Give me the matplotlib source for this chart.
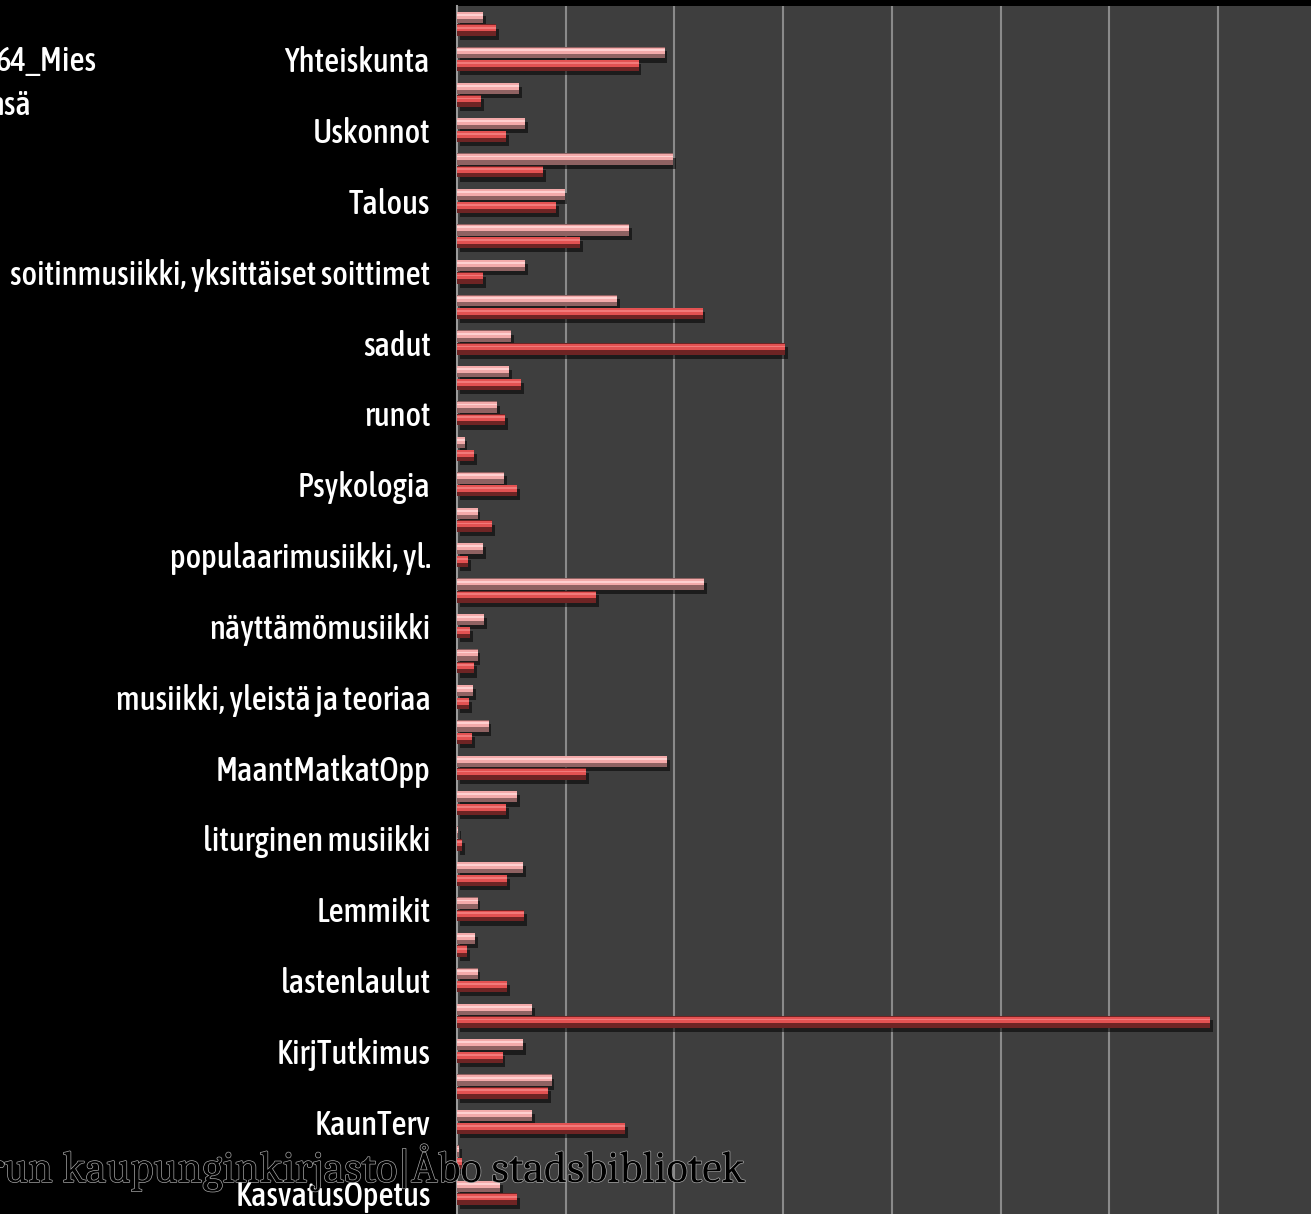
import matplotlib
matplotlib.use("Agg")
import matplotlib.pyplot as plt
import matplotlib.patheffects as pe
from matplotlib.textpath import TextPath
from matplotlib.font_manager import FontProperties
import numpy as np

# rows from top to bottom; every second row has no visible label in the source
categories = ['', 'Yhteiskunta', '', 'Uskonnot', '', 'Talous', '',
              'soitinmusiikki, yksittäiset soittimet', '', 'sadut', '', 'runot', '',
              'Psykologia', '', 'populaarimusiikki, yl.', '', 'näyttämömusiikki', '',
              'musiikki, yleistä ja teoriaa', '', 'MaantMatkatOpp', '',
              'liturginen musiikki', '', 'Lemmikit', '', 'lastenlaulut', '',
              'KirjTutkimus', '', 'KaunTerv', '', 'KasvatusOpetus']

# light series (upper bar of each pair)
yhteensa = [0.24, 1.91, 0.57, 0.63, 1.99, 0.99, 1.58, 0.63, 1.47, 0.50, 0.48, 0.37,
            0.07, 0.43, 0.19, 0.24, 2.27, 0.25, 0.19, 0.15, 0.29, 1.93, 0.55, 0.01,
            0.61, 0.19, 0.17, 0.19, 0.69, 0.61, 0.87, 0.69, 0.02, 0.40]
# dark red series (lower bar of each pair)
mies = [0.36, 1.67, 0.22, 0.45, 0.79, 0.91, 1.13, 0.24, 2.26, 3.02, 0.59, 0.44,
        0.16, 0.55, 0.32, 0.10, 1.28, 0.12, 0.16, 0.11, 0.14, 1.19, 0.45, 0.05,
        0.46, 0.62, 0.09, 0.46, 6.93, 0.42, 0.84, 1.55, 0.05, 0.55]

legend_texts = ['64_Mies', 'nsä']
watermark = 'Turun kaupunginkirjasto|Åbo stadsbibliotek'

label_font = ['Asap Condensed', 'DejaVu Sans']
serif_font = ['Caladea', 'Liberation Serif', 'DejaVu Serif']


def size_for_width(text, family, width_px, weight='normal'):
    # font size (pt) that makes `text` about width_px wide at dpi 100
    tp = TextPath((0, 0), text, size=100, prop=FontProperties(family=family, weight=weight))
    w = tp.get_extents().width
    return 100 * width_px / w * 72 / 100


W, H = 1311, 1214
fig = plt.figure(figsize=(W / 100, H / 100), dpi=100, facecolor='black')
ax = fig.add_axes([457 / W, 0, 1 - 457 / W, 1 - 6 / H])
ax.set_facecolor('#3e3e3e')

y = np.arange(len(categories))
h = 0.32
off = 0.18

styles = [
    (yhteensa, -off, '#8f6262', '#f3aaaa', '#ffd0d0'),
    (mies, off, '#6e2424', '#e35252', '#f27a7a'),
]
shadow = [pe.SimplePatchShadow(offset=(2, -3), shadow_rgbFace='black', alpha=0.55), pe.Normal()]
for vals, dy, dark, mid, light in styles:
    ax.barh(y + dy, vals, height=h, color=dark, zorder=3, path_effects=shadow)
    ax.barh(y + dy - h * 0.17, vals, height=h * 0.58, color=mid, zorder=4)
    ax.barh(y + dy - h * 0.22, vals, height=h * 0.16, color=light, zorder=5)

ax.set_xlim(0, 854 / 108.7)
ax.set_ylim(33.6, -0.5)
ax.set_xticks(np.arange(1, 8))
ax.xaxis.grid(True, color='#8a8a8a', linewidth=1.5, zorder=1)
ax.set_axisbelow(True)
ax.tick_params(axis='x', length=0, labelbottom=False)

lab_weight = 'medium'
lab_size = size_for_width('soitinmusiikki, yksittäiset soittimet', label_font[0], 418, lab_weight)
ax.set_yticks(y)
ax.set_yticklabels(categories, family=label_font, fontsize=lab_size, color='white',
                   weight=lab_weight)
ax.tick_params(axis='y', length=0, pad=19)
for s in ['top', 'right', 'bottom']:
    ax.spines[s].set_visible(False)
ax.spines['left'].set_color('#9a9a9a')
ax.spines['left'].set_linewidth(1.5)

fig.text(97 / W, 1 - 71 / H, legend_texts[0], ha='right', va='baseline',
         family=label_font, fontsize=lab_size, color='white', weight=lab_weight)
fig.text(31 / W, 1 - 115 / H, legend_texts[1], ha='right', va='baseline',
         family=label_font, fontsize=lab_size, color='white', weight=lab_weight)

wm_size = size_for_width('un kaupunginkirjasto|Åbo stadsbibliotek', serif_font[0], 740)
fig.text(744 / W, 1 - 1182 / H, watermark, ha='right', va='baseline',
         family=serif_font, fontsize=wm_size, color='black',
         path_effects=[pe.withStroke(linewidth=1.0, foreground='#a8a8a8')], zorder=10)

fig.savefig('out.png', dpi=100, facecolor='black')
